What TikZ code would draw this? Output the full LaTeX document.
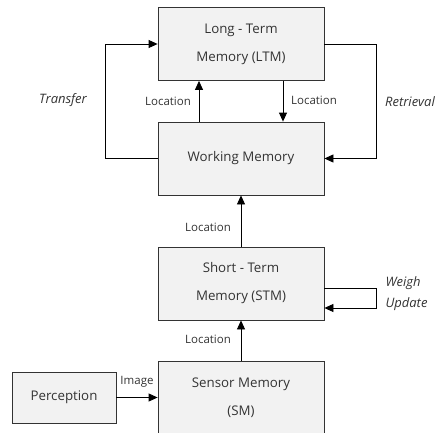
\documentclass[tikz,border=0pt]{standalone}
\usepackage{fontspec}
\setmainfont{Open Sans}
\usetikzlibrary{arrows.meta}

\begin{document}
\begin{tikzpicture}[x=1pt, y=-1pt,
  every node/.style={text=black!80, font=\fontsize{11.5}{12}\selectfont},
  membox/.style={draw=black!80, fill=black!5, line width=0.8pt, minimum width=166pt,
    minimum height=73pt, align=center, inner sep=0pt, font=\fontsize{13.3}{28}\selectfont},
  flow/.style={line width=0.8pt, -{Triangle[length=9pt, width=8pt]}},
  side/.style={font=\itshape\fontsize{13}{21}\selectfont, align=left}]

  \useasboundingbox (0,0) rectangle (437,432);
  \clip (0,0) rectangle (437,432);

  %% Memory boxes
  \node[membox] (ltm) at (241,44) {Long - Term\\Memory (LTM)};
  \node[membox] (wm) at (241,158.5) {Working Memory};
  \node[membox] (stm) at (241,283.5) {Short - Term\\Memory (STM)};
  \node[membox] (sm) at (241,397.5) {Sensor Memory\\(SM)};
  \node[membox, minimum width=104pt, minimum height=51pt, font=\fontsize{13.3}{15}\selectfont]
    (perc) at (64,397.5) {Perception};

  %% Loops between working and long-term memory
  \draw[flow] (wm.west) -- ++(-52,0) |- (ltm.west);
  \draw[flow] (ltm.east) -- ++(52,0) |- (wm.east);
  \node[side] at (63,100) {Transfer};
  \node[side] at (410,102) {Retrieval};

  % Location in both directions
  \draw[flow] ([xshift=-42pt]wm.north) -- ([xshift=-42pt]ltm.south);
  \draw[flow] ([xshift=42pt]ltm.south) -- ([xshift=42pt]wm.north);
  \node at (168,101) {Location};
  \node at (314,100) {Location};

  %% Bottom-up chain
  \draw[flow] (stm.north) -- (wm.south);
  \node at (208,227) {Location};
  \draw[flow] (sm.north) -- (stm.north |- stm.south);
  \node at (208,339) {Location};

  % Weigh update loop
  \draw[flow] ([yshift=-4.5pt]stm.east) -- ++(52,0) |- ([yshift=-24.5pt]stm.east);
  \node[side, anchor=west] at (382,293.5) {Weigh\\Update};

  % Perception into sensor memory
  \draw[flow] (perc.east) -- (sm.west);
  \node at (137,382) {Image};

\end{tikzpicture}
\end{document}
